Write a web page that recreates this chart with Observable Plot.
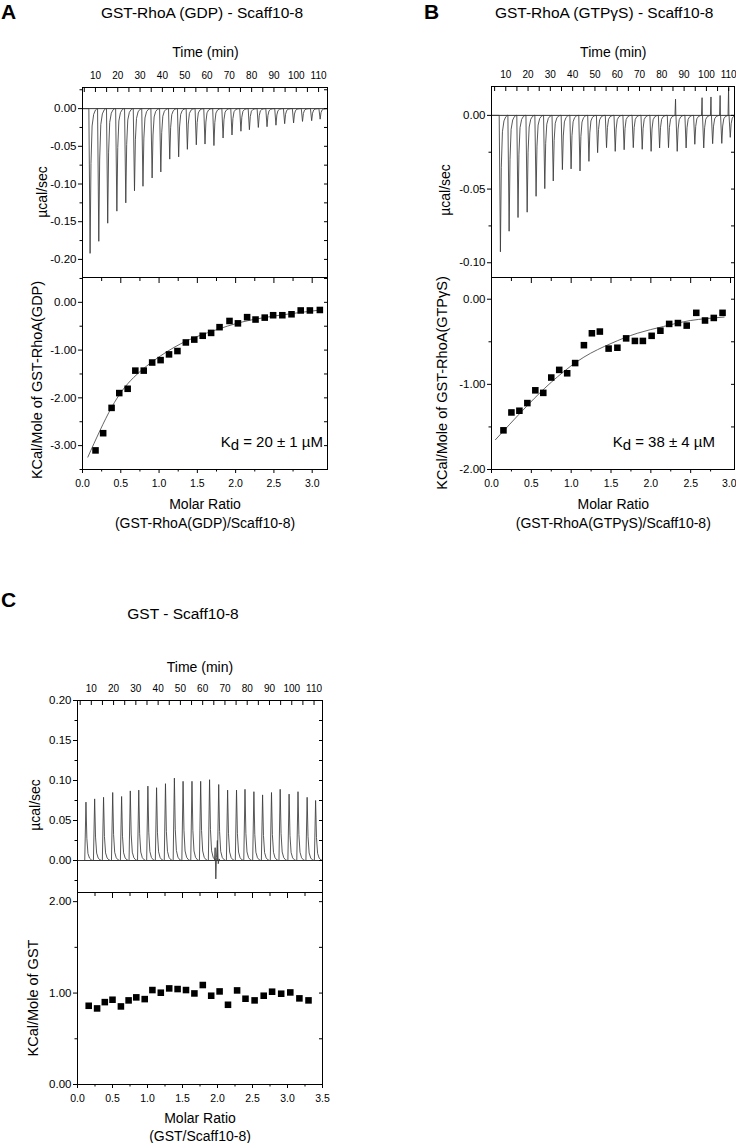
<!DOCTYPE html>
<html><head><meta charset="utf-8">
<script src="https://cdn.jsdelivr.net/npm/d3@7"></script>
<script src="https://cdn.jsdelivr.net/npm/@observablehq/plot@0.6"></script>
<style>
body{margin:0;background:#fff;}
#root{position:relative;width:736px;height:1143px;font-family:'Liberation Sans',Arial,Helvetica,sans-serif;color:#000;overflow:hidden;background:#fff;}
.t{position:absolute;white-space:nowrap;line-height:1;}
.p{position:absolute;}
</style></head><body><div id="root"></div>
<script>
// ---------- data ----------
const injectionTimes = [7.3, 11.2, 15.2, 19.3, 23.3, 27.2, 31.0, 35.1, 39.0, 43.0, 47.0, 50.9, 54.9, 58.8, 62.8, 66.9, 70.9, 74.9, 78.7, 82.7, 86.6, 90.6, 94.5, 98.5, 102.5, 106.6, 110.4];
const peakA = [-0.192,-0.176,-0.152,-0.136,-0.125,-0.109,-0.103,-0.092,-0.084,-0.067,-0.064,-0.054,-0.048,-0.047,-0.049,-0.039,-0.035,-0.030,-0.028,-0.025,-0.024,-0.022,-0.020,-0.019,-0.017,-0.016,-0.014];
const peakB = [-0.0926,-0.0786,-0.0693,-0.0657,-0.0549,-0.0497,-0.0445,-0.0368,-0.0363,-0.0377,-0.0312,-0.0253,-0.0219,-0.0244,-0.0233,-0.0219,-0.0230,-0.0244,-0.0221,-0.0219,-0.0244,-0.0221,-0.0196,-0.0221,-0.0192,-0.0190,-0.0149];
const upB = [0,0,0,0,0,0,0,0,0,0,0,0,0,0,0,0,0,0,0,0,0.011,0,0,0.012,0.0125,0.0135,0.0185];
const peakC = [0.073,0.077,0.079,0.085,0.080,0.087,0.088,0.093,0.091,0.096,0.103,0.099,0.099,0.099,0.101,0.095,0.088,0.088,0.089,0.086,0.082,0.085,0.089,0.083,0.086,0.079,0.075];
const artifactTimeC = [65.3, 65.6, 65.9, 66.2, 66.6, 67.0, 67.4, 67.8];
const artifactValueC = [0, 0.016, -0.023, 0.004, 0.025, -0.004, 0.002, 0];
const spikeOffsets = [-0.25, 0.3, 0.7, 1.2, 1.9, 2.7, 3.4];
const spikeFractions = [0, 1, 0.38, 0.12, 0.04, 0.01, 0];

const ratioA = [0.17,0.27,0.38,0.48,0.59,0.69,0.80,0.91,1.02,1.13,1.24,1.35,1.46,1.57,1.68,1.79,1.92,2.03,2.15,2.26,2.38,2.49,2.61,2.73,2.85,2.97,3.10];
const heatA = [-3.10,-2.74,-2.21,-1.90,-1.81,-1.43,-1.43,-1.26,-1.21,-1.09,-1.02,-0.84,-0.78,-0.70,-0.64,-0.52,-0.39,-0.44,-0.31,-0.36,-0.32,-0.27,-0.27,-0.25,-0.17,-0.17,-0.16];
const fitRatioA = [0.07,0.38,0.67,1.02,1.37,1.72,2.06,2.41,2.76,3.11];
const fitHeatA = [-3.24,-2.20,-1.57,-1.12,-0.80,-0.59,-0.42,-0.31,-0.23,-0.16];

const ratioB = [0.15,0.25,0.35,0.45,0.55,0.65,0.75,0.85,0.95,1.05,1.16,1.26,1.36,1.47,1.58,1.69,1.80,1.90,2.01,2.12,2.23,2.34,2.45,2.57,2.68,2.79,2.90];
const heatB = [-1.54,-1.33,-1.31,-1.22,-1.07,-1.10,-0.92,-0.83,-0.87,-0.75,-0.54,-0.40,-0.38,-0.58,-0.57,-0.46,-0.49,-0.49,-0.43,-0.37,-0.29,-0.28,-0.31,-0.16,-0.25,-0.22,-0.16];
const fitRatioB = [0.05,0.49,0.83,1.16,1.50,1.83,2.16,2.50,2.92];
const fitHeatB = [-1.65,-1.21,-0.91,-0.68,-0.52,-0.40,-0.32,-0.25,-0.21];

const ratioC = [0.16,0.28,0.39,0.50,0.62,0.73,0.84,0.96,1.07,1.19,1.31,1.43,1.55,1.67,1.79,1.91,2.03,2.15,2.28,2.40,2.53,2.66,2.78,2.91,3.04,3.17,3.30];
const heatC = [0.861,0.832,0.901,0.927,0.854,0.920,0.953,0.934,1.033,1.004,1.051,1.044,1.033,0.996,1.088,0.971,1.018,0.872,1.029,0.938,0.920,0.971,1.015,0.993,1.007,0.942,0.920];

// tick labels
const timeTicks = [10,20,30,40,50,60,70,80,90,100,110];
const timeTickMarks = [5,10,15,20,25,30,35,40,45,50,55,60,65,70,75,80,85,90,95,100,105,110];
const yTicksTopA = [0,-0.05,-0.10,-0.15,-0.20];
const yMinorTopA = [0.025,-0.025,-0.075,-0.125,-0.175];
const yTicksTopB = [0,-0.05,-0.10];
const yMinorTopB = [-0.025,-0.075];
const yTicksTopC = [0,0.05,0.10,0.15,0.20];
const yMinorTopC = [-0.025,0.025,0.075,0.125,0.175];
const xTicksA = [0,0.5,1.0,1.5,2.0,2.5,3.0];
const xMinorA = [0.25,0.75,1.25,1.75,2.25,2.75];
const xTicksB = [0,0.5,1.0,1.5,2.0,2.5,3.0];
const xMinorB = [0.25,0.75,1.25,1.75,2.25,2.75];
const xTicksC = [0,0.5,1.0,1.5,2.0,2.5,3.0,3.5];
const xMinorC = [0.25,0.75,1.25,1.75,2.25,2.75,3.25];
const yTicksBotA = [0,-1,-2,-3];
const yMinorBotA = [0.5,-0.5,-1.5,-2.5,-3.5];
const yTicksBotB = [0,-1,-2];
const yMinorBotB = [-0.5,-1.5];
const yTicksBotC = [0,1,2];
const yMinorBotC = [0.5,1.5];

// ---------- helpers ----------
const FONT = "'Liberation Sans', Arial, Helvetica, sans-serif";
const root = document.getElementById("root");

function buildTrace(peaks, ups, domain) {
  const rows = [{t: domain[0], v: 0}];
  peaks.forEach((p, i) => {
    const t0 = injectionTimes[i];
    if (ups && ups[i]) rows.push({t: t0 - 0.7, v: 0}, {t: t0 - 0.45, v: ups[i]}, {t: t0 - 0.3, v: 0});
    spikeOffsets.forEach((dt, j) => rows.push({t: t0 + dt, v: spikeFractions[j] * p}));
  });
  rows.push({t: domain[1], v: 0});
  return rows;
}
const zip = (xs, ys) => xs.map((x, i) => ({x, y: ys[i]}));

function place(node, left, top) {
  const d = document.createElement("div");
  d.className = "p"; d.style.left = left + "px"; d.style.top = top + "px";
  d.appendChild(node); root.appendChild(d);
}
function txt(html, x, y, o = {}) {
  const d = document.createElement("div");
  d.className = "t";
  d.innerHTML = html;
  d.style.left = x + "px"; d.style.top = y + "px";
  d.style.fontSize = (o.size || 14) + "px";
  if (o.bold) d.style.fontWeight = "bold";
  const tx = o.align === "right" ? "-100%" : "-50%";
  d.style.transform = `translate(${tx},-50%)` + (o.rotate ? " rotate(-90deg)" : "");
  root.appendChild(d);
}

const baseStyle = {fontFamily: FONT, fontSize: "10px", background: "transparent", overflow: "visible", color: "#000"};

function topPlot(c) {
  return Plot.plot({
    width: c.width, height: c.height,
    marginLeft: c.ml, marginRight: c.mr, marginTop: c.mt, marginBottom: 0,
    style: baseStyle,
    x: {domain: c.xDomain, axis: null},
    y: {domain: c.yDomain, axis: null},
    marks: [
      Plot.ruleY([0], {stroke: "#000", strokeWidth: 0.8}),
      Plot.line(c.trace, {x: "t", y: "v", stroke: "#3a3a3a", strokeWidth: 0.85, clip: true}),
      c.extra ? Plot.line(c.extra, {x: "x", y: "y", stroke: "#3a3a3a", strokeWidth: 0.85, clip: true}) : null,
      Plot.frame({stroke: "#000", strokeWidth: 1}),
      Plot.axisX(timeTicks, {anchor: "top", tickSize: 0, tickPadding: 9, fontSize: 10, tickFormat: d => String(d), label: null}),
      Plot.axisX(timeTickMarks, {anchor: "top", tickSize: -4, fill: "none", label: null}),
      Plot.axisY(c.yTicks, {anchor: "left", tickSize: 4, tickPadding: 2, fontSize: 11.5, tickFormat: d => d.toFixed(2), label: null}),
      Plot.axisY(c.yMinor, {anchor: "left", tickSize: 2.5, fill: "none", label: null}),
      Plot.axisY(c.yTicks.concat(c.yMinor), {anchor: "right", tickSize: -4, fill: "none", label: null})
    ]
  });
}

function bottomPlot(c) {
  const labelTicks = c.endLast ? c.xTicks.slice(0, -1) : c.xTicks;
  return Plot.plot({
    width: c.width, height: c.height,
    marginLeft: c.ml, marginRight: c.mr, marginTop: 0, marginBottom: 30,
    style: baseStyle,
    x: {domain: c.xDomain, axis: null},
    y: {domain: c.yDomain, axis: null},
    marks: [
      c.fit ? Plot.line(c.fit, {x: "x", y: "y", curve: "natural", stroke: "#4a4a4a", strokeWidth: 0.85}) : null,
      Plot.dot(c.points, {x: "x", y: "y", symbol: "square", r: 3.7, fill: "#000", stroke: "none"}),
      Plot.frame({stroke: "#000", strokeWidth: 1}),
      Plot.axisX(labelTicks, {anchor: "bottom", tickSize: 4, tickPadding: 6, fontSize: 10.5, tickFormat: d => d.toFixed(1), label: null}),
      c.endLast ? Plot.axisX(c.xTicks.slice(-1), {anchor: "bottom", tickSize: 4, tickPadding: 6, fontSize: 10.5, textAnchor: "end", dx: 6, tickFormat: d => d.toFixed(1), label: null}) : null,
      Plot.axisX(c.xMinor, {anchor: "bottom", tickSize: 2.5, fill: "none", label: null}),
      Plot.axisX(c.xTicks, {anchor: "top", tickSize: -5, fill: "none", label: null}),
      Plot.axisX(c.xMinor, {anchor: "top", tickSize: -3, fill: "none", label: null}),
      Plot.axisY(c.yTicks, {anchor: "left", tickSize: 4, tickPadding: 2, fontSize: 11.5, tickFormat: d => d.toFixed(2), label: null}),
      Plot.axisY(c.yMinor, {anchor: "left", tickSize: 2.5, fill: "none", label: null}),
      Plot.axisY(c.yTicks.concat(c.yMinor), {anchor: "right", tickSize: -4, fill: "none", label: null})
    ]
  });
}

// ---------- Panel A ----------
const tdA = [4.2, 114];
place(topPlot({width: 340, height: 277, ml: 82, mr: 13, mt: 87, xDomain: tdA, yDomain: [-0.224, 0.028],
  trace: buildTrace(peakA, null, tdA), yTicks: yTicksTopA, yMinor: yMinorTopA}), 0, 0);
place(bottomPlot({width: 340, height: 222, ml: 82, mr: 13, xDomain: [0, 3.2], yDomain: [-3.5, 0.52],
  points: zip(ratioA, heatA), fit: zip(fitRatioA, fitHeatA), xTicks: xTicksA, xMinor: xMinorA,
  yTicks: yTicksBotA, yMinor: yMinorBotA}), 0, 277);

// ---------- Panel B ----------
const tdB = [3.6, 112.6];
place(topPlot({width: 366, height: 277, ml: 121, mr: 2, mt: 86, xDomain: tdB, yDomain: [-0.110, 0.0196],
  trace: buildTrace(peakB, upB, tdB), yTicks: yTicksTopB, yMinor: yMinorTopB}), 370, 0);
place(bottomPlot({width: 366, height: 222, ml: 121, mr: 2, xDomain: [0, 3.05], yDomain: [-2.0, 0.255],
  points: zip(ratioB, heatB), fit: zip(fitRatioB, fitHeatB), xTicks: xTicksB, xMinor: xMinorB,
  yTicks: yTicksBotB, yMinor: yMinorBotB, endLast: true}), 370, 277);

// ---------- Panel C ----------
const tdC = [3.8, 113.8];
place(topPlot({width: 340, height: 292, ml: 77, mr: 18, mt: 100, xDomain: tdC, yDomain: [-0.040, 0.20],
  trace: buildTrace(peakC, null, tdC), extra: zip(artifactTimeC, artifactValueC),
  yTicks: yTicksTopC, yMinor: yMinorTopC}), 0, 600);
place(bottomPlot({width: 340, height: 222, ml: 77, mr: 18, xDomain: [0, 3.5], yDomain: [0, 2.1],
  points: zip(ratioC, heatC), fit: null, xTicks: xTicksC, xMinor: xMinorC,
  yTicks: yTicksBotC, yMinor: yMinorBotC}), 0, 892);

// ---------- texts ----------
txt("A", 8.5, 10.5, {size: 21, bold: true});
txt("GST-RhoA (GDP) - Scaff10-8", 202, 12.5, {size: 15.5});
txt("Time (min)", 205.5, 52.3);
txt("µcal/sec", 42, 192, {rotate: true});
txt("KCal/Mole of GST-RhoA(GDP)", 37.3, 380, {rotate: true, size: 14.5});
txt("Molar Ratio", 205, 503.5);
txt("(GST-RhoA(GDP)/Scaff10-8)", 205, 522.5);
txt("K<span style='position:relative;top:3px'>d</span> = 20 ± 1 µM", 323, 441, {size: 15, align: "right"});

txt("B", 431.7, 10.8, {size: 21, bold: true});
txt("GST-RhoA (GTPγS) - Scaff10-8", 604.2, 12.5, {size: 15.5});
txt("Time (min)", 613.3, 52.3);
txt("µcal/sec", 445, 190, {rotate: true});
txt("KCal/Mole of GST-RhoA(GTPγS)", 441.7, 383, {rotate: true, size: 14.5});
txt("Molar Ratio", 613.3, 504);
txt("(GST-RhoA(GTPγS)/Scaff10-8)", 613.3, 523);
txt("K<span style='position:relative;top:3px'>d</span> = 38 ± 4 µM", 715, 441, {size: 15, align: "right"});

txt("C", 8.5, 599, {size: 21, bold: true});
txt("GST - Scaff10-8", 183, 614, {size: 15.5});
txt("Time (min)", 200, 666.7);
txt("µcal/sec", 35, 805, {rotate: true});
txt("KCal/Mole of GST", 33.3, 998, {rotate: true, size: 14.5});
txt("Molar Ratio", 200, 1118);
txt("(GST/Scaff10-8)", 200, 1136);
</script></body></html>
